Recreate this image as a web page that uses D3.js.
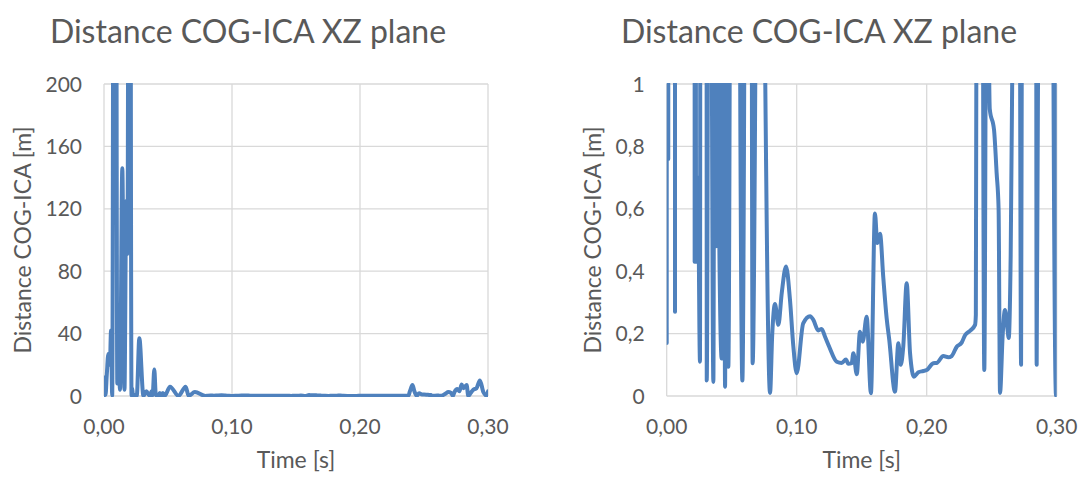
<!DOCTYPE html>
<html>
<head>
<meta charset="utf-8">
<script src="https://cdn.jsdelivr.net/npm/d3@7"></script>
<style>
  html, body { margin: 0; padding: 0; background: #ffffff; }
  svg { display: block; }
  text { font-family: Lato, "Open Sans", sans-serif; fill: #595959; }
</style>
</head>
<body>
<svg id="chart" width="1083" height="477"></svg>
<script>
// Time samples [s]
const times = [
  0.0000, 0.0008, 0.0012, 0.0022, 0.0034, 0.0046, 0.0055, 0.0064, 0.0085, 0.0104,
  0.0112, 0.0125, 0.0143, 0.0160, 0.0174, 0.0183, 0.0200, 0.0215, 0.0220, 0.0226,
  0.0240, 0.0256, 0.0276, 0.0308, 0.0330, 0.0359, 0.0372, 0.0380, 0.0393, 0.0405,
  0.0423, 0.0436, 0.0449, 0.0460, 0.0474, 0.0516, 0.0582, 0.0638, 0.0661, 0.0710,
  0.0795, 0.0812, 0.0833, 0.0859, 0.0885, 0.0918, 0.0948, 0.0974, 0.1000, 0.1050,
  0.1103, 0.1128, 0.1166, 0.1192, 0.1218, 0.1250, 0.1308, 0.1346, 0.1379, 0.1397,
  0.1423, 0.1436, 0.1462, 0.1487, 0.1508, 0.1538, 0.1571, 0.1602, 0.1620, 0.1641,
  0.1666, 0.1692, 0.1712, 0.1756, 0.1782, 0.1800, 0.1820, 0.1846, 0.1872, 0.1902,
  0.1936, 0.1974, 0.2000, 0.2051, 0.2077, 0.2128, 0.2166, 0.2192, 0.2231, 0.2269,
  0.2295, 0.2333, 0.2372, 0.2378, 0.2390, 0.2410, 0.2425, 0.2443, 0.2462, 0.2485,
  0.2518, 0.2538, 0.2553, 0.2564, 0.2585, 0.2602, 0.2620, 0.2631, 0.2646, 0.2667,
  0.2690, 0.2712, 0.2726, 0.2738, 0.2760, 0.2777, 0.2794, 0.2807, 0.2820, 0.2833,
  0.2846, 0.2865, 0.2885, 0.2910, 0.2937, 0.2964, 0.2995, 0.3000
];

// Distance between COG and ICA in the XZ plane [m]
const distances = [
  0.17, 12, 0.76, 14, 27, 20, 42, 0.27, 900, 8,
  39, 4, 146, 4, 125, 91, 700, 0.43, 5, 0.43,
  0.7, 0.11, 37, 0.05, 3, 0.045, 3, 0.48, 17, 0.48,
  0.12, 2, 0.03, 2, 0.094, 6, 0.05, 6, 0.105, 2.5,
  0.01, 0.2, 0.295, 0.228, 0.33, 0.415, 0.31, 0.16, 0.073, 0.233,
  0.256, 0.244, 0.21, 0.215, 0.19, 0.158, 0.11, 0.106, 0.117, 0.103,
  0.105, 0.137, 0.07, 0.206, 0.174, 0.254, 0.009, 0.585, 0.49, 0.52,
  0.38, 0.249, 0.18, 0.014, 0.169, 0.10, 0.16, 0.361, 0.137, 0.062,
  0.076, 0.08, 0.083, 0.105, 0.106, 0.128, 0.124, 0.128, 0.158, 0.171,
  0.195, 0.209, 0.228, 0.26, 3, 7, 3, 0.083, 1.8, 0.92,
  0.853, 0.714, 0.6, 0.01, 0.2, 0.276, 0.22, 0.186, 0.45, 1.5,
  2.5, 2, 0.1, 2.5, 4.5, 3, 7.4, 5, 6, 7,
  0.1, 2, 4, 5, 10, 2.5, 0, 3
];

// Axis ticks
const timeTicks = [0, 0.1, 0.2, 0.3];
const wideTicks = [0, 40, 80, 120, 160, 200];
const zoomTicks = [0, 0.2, 0.4, 0.6, 0.8, 1];

const chartTitle = "Distance COG-ICA XZ plane";
const xTitle = "Time [s]";
const yTitle = "Distance COG-ICA [m]";

const locale = d3.formatLocale({ decimal: ",", thousands: ".", grouping: [3], currency: ["", " €"] });
const fmtTime = locale.format(".2f");
const fmtWide = locale.format("d");
const fmtZoom = locale.format("~g");

const points = times.map((t, i) => ({ t, v: distances[i] }));

const panels = [
  { id: "wide", left: 104, right: 488, yMax: 200, ticks: wideTicks, fmt: fmtWide, titleX: 248, yTitleX: 23 },
  { id: "zoom", left: 666.7, right: 1056.7, yMax: 1, ticks: zoomTicks, fmt: fmtZoom, titleX: 819, yTitleX: 593 }
];
const plotTop = 84, plotBottom = 396;

const svg = d3.select("#chart");
const defs = svg.append("defs");

panels.forEach(p => {
  const x = d3.scaleLinear().domain([0, 0.3]).range([p.left, p.right]);
  const y = d3.scaleLinear().domain([0, p.yMax]).range([plotBottom, plotTop]);
  const g = svg.append("g").attr("class", "panel-" + p.id);

  // Title
  g.append("text")
    .attr("x", p.titleX).attr("y", 43)
    .attr("text-anchor", "middle")
    .style("font-size", "32px")
    .text(chartTitle);

  // Horizontal gridlines
  g.append("g").selectAll("line").data(p.ticks).join("line")
    .attr("x1", p.left).attr("x2", p.right)
    .attr("y1", d => y(d)).attr("y2", d => y(d))
    .attr("stroke", "#d9d9d9").attr("stroke-width", 1.3);

  // Vertical gridlines
  g.append("g").selectAll("line").data(timeTicks).join("line")
    .attr("x1", d => x(d)).attr("x2", d => x(d))
    .attr("y1", plotTop).attr("y2", plotBottom)
    .attr("stroke", "#d9d9d9").attr("stroke-width", 1.3);

  // Y tick labels
  g.append("g").selectAll("text").data(p.ticks).join("text")
    .attr("x", p.left - 22).attr("y", d => y(d))
    .attr("dy", "0.36em")
    .attr("text-anchor", "end")
    .style("font-size", "21px")
    .text(d => p.fmt(d));

  // X tick labels
  g.append("g").selectAll("text").data(timeTicks).join("text")
    .attr("x", d => x(d)).attr("y", 434)
    .attr("text-anchor", "middle")
    .style("font-size", "21px")
    .text(d => fmtTime(d));

  // Axis titles
  g.append("text")
    .attr("x", (p.left + p.right) / 2).attr("y", 468)
    .attr("text-anchor", "middle")
    .style("font-size", "23px")
    .text(xTitle);

  g.append("text")
    .attr("transform", `translate(${p.yTitleX},${(plotTop + plotBottom) / 2}) rotate(-90)`)
    .attr("dy", "0.35em")
    .attr("text-anchor", "middle")
    .style("font-size", "23px")
    .text(yTitle);

  // Data line, clipped to the plot area
  const clipId = "clip-" + p.id;
  defs.append("clipPath").attr("id", clipId)
    .append("rect")
    .attr("x", p.left).attr("y", plotTop - 1)
    .attr("width", p.right - p.left).attr("height", plotBottom - plotTop + 2);

  const line = d3.line()
    .x(d => x(d.t))
    .y(d => y(d.v))
    .curve(d3.curveMonotoneX);

  g.append("path")
    .datum(points)
    .attr("clip-path", `url(#${clipId})`)
    .attr("fill", "none")
    .attr("stroke", "#4f81bd")
    .attr("stroke-width", 4)
    .attr("stroke-linejoin", "round")
    .attr("stroke-linecap", "round")
    .attr("d", line);
});
</script>
</body>
</html>
